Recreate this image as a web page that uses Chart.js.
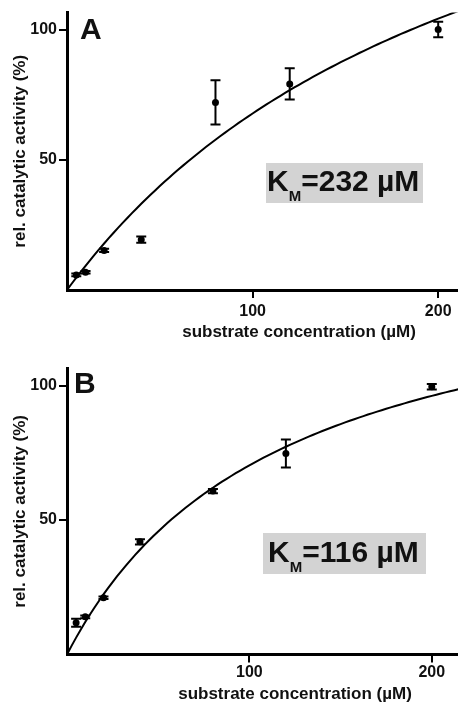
<!DOCTYPE html>
<html>
<head>
<meta charset="utf-8">
<script src="https://cdn.jsdelivr.net/npm/chart.js@4"></script>
<style>
  html, body { margin: 0; padding: 0; background: #fff; width: 458px; height: 702px; overflow: hidden; }
  .panel { position: absolute; left: 0; }
  .letter { position: absolute; font: bold 30px "Liberation Sans", Arial, sans-serif; line-height: 30px; color: #111; }
  .km { position: absolute; background: #d3d3d3; }
  .km span.txt { position: absolute; left: 1px; white-space: nowrap; font: bold 30px "Liberation Sans", Arial, sans-serif; line-height: 30px; color: #111; }
  .km sub { font-size: 15px; vertical-align: -10px; line-height: 0; }
</style>
</head>
<body>
<div class="panel" style="top:0"><canvas id="chartA" width="535" height="340"></canvas></div>
<div class="panel" style="top:340px"><canvas id="chartB" width="527" height="362"></canvas></div>

<div class="letter" style="left:80px; top:14px">A</div>
<div class="letter" style="left:74px; top:368px">B</div>
<div class="km" style="left:266px; top:163px; width:157px; height:40px"><span class="txt" style="top:3px">K<sub>M</sub>=232 µM</span></div>
<div class="km" style="left:263px; top:533px; width:163px; height:41px"><span class="txt" style="top:4px; left:5px">K<sub>M</sub>=116 µM</span></div>

<script>
// substrate concentrations (µM) measured in both panels
const CONC = [5, 10, 20, 40, 80, 120, 200];

// panel A: relative activity (%) and error
const A_ACT = [5.8, 6.8, 15.2, 19.3, 72, 79.1, 100];
const A_ERR = [0.5, 0.5, 0.6, 1.2, 8.5, 6, 3];
const A_KM = 232;
const A_VMAX = 225;

// panel B
const B_ACT = [11.8, 14.0, 21.1, 41.9, 60.8, 74.8, 99.6];
const B_ERR = [1.5, 0.5, 0.5, 1.0, 0.8, 5.2, 1.0];
const B_KM = 116;
const B_VMAX = 152;

const X_TICKS = [100, 200];
const Y_TICKS = [50, 100];
const X_MAX = 250;
const Y_MAX = 106.5;

const FONT = '"Liberation Sans", Arial, sans-serif';
const TEXT = '#111';

// Michaelis-Menten fit line from Km / Vmax
function fitCurve(km, vmax) {
    const pts = [];
    for (let s = 0; s <= X_MAX; s += 2.5) {
        pts.push({ x: s, y: vmax * s / (km + s) });
    }
    return pts;
}

const errorBars = {
    id: 'errorBars',
    afterDatasetsDraw(chart, args, opts) {
        const { ctx, scales: { x, y } } = chart;
        ctx.save();
        ctx.strokeStyle = '#000';
        ctx.lineWidth = 2;
        opts.xs.forEach((c, i) => {
            const px = x.getPixelForValue(c);
            const hi = y.getPixelForValue(opts.ys[i] + opts.err[i]);
            const lo = y.getPixelForValue(opts.ys[i] - opts.err[i]);
            ctx.beginPath();
            ctx.moveTo(px, hi); ctx.lineTo(px, lo);
            ctx.moveTo(px - 5, hi); ctx.lineTo(px + 5, hi);
            ctx.moveTo(px - 5, lo); ctx.lineTo(px + 5, lo);
            ctx.stroke();
        });
        ctx.restore();
    }
};

function makeChart(id, act, err, km, vmax, lay) {
    const ctx = document.getElementById(id).getContext('2d');
    return new Chart(ctx, {
        type: 'scatter',
        data: {
            datasets: [
                {
                    data: fitCurve(km, vmax),
                    showLine: true,
                    borderColor: '#000',
                    borderWidth: 2,
                    pointRadius: 0,
                    tension: 0
                },
                {
                    data: CONC.map((c, i) => ({ x: c, y: act[i] })),
                    backgroundColor: '#000',
                    borderWidth: 0,
                    pointRadius: 3.5
                }
            ]
        },
        options: {
            responsive: false,
            animation: false,
            devicePixelRatio: 1,
            layout: { padding: { top: lay.top, left: 0, right: 0, bottom: 0 } },
            plugins: {
                legend: { display: false },
                tooltip: { enabled: false },
                errorBars: { xs: CONC, ys: act, err: err }
            },
            scales: {
                x: {
                    type: 'linear',
                    min: 0,
                    max: X_MAX,
                    afterBuildTicks: s => { s.ticks = X_TICKS.map(v => ({ value: v })); },
                    afterFit: s => { s.height = lay.xh; },
                    grid: { drawOnChartArea: false, drawTicks: true, tickLength: 8, color: '#000', lineWidth: 2 },
                    border: { color: '#000', width: 3 },
                    ticks: { color: TEXT, padding: lay.xpad, font: { family: FONT, size: 16, weight: 'bold' } },
                    title: {
                        display: true,
                        text: 'substrate concentration (µM)',
                        color: TEXT,
                        padding: { top: 0, bottom: -2.5 },
                        font: { family: FONT, size: 17, weight: 'bold' }
                    }
                },
                y: {
                    type: 'linear',
                    min: 0,
                    max: Y_MAX,
                    afterBuildTicks: s => { s.ticks = Y_TICKS.map(v => ({ value: v })); },
                    afterFit: s => { s.width = 67; },
                    grid: { drawOnChartArea: false, drawTicks: true, tickLength: 8, color: '#000', lineWidth: 2 },
                    border: { color: '#000', width: 3 },
                    ticks: { color: TEXT, padding: 2, font: { family: FONT, size: 16, weight: 'bold' } },
                    title: {
                        display: true,
                        text: 'rel. catalytic activity (%)',
                        color: TEXT,
                        padding: { top: 10, bottom: 0 },
                        font: { family: FONT, size: 17, weight: 'bold' }
                    }
                }
            }
        },
        plugins: [errorBars]
    });
}

makeChart('chartA', A_ACT, A_ERR, A_KM, A_VMAX, { top: 12.6, xh: 50, xpad: 4 });
makeChart('chartB', B_ACT, B_ERR, B_KM, B_VMAX, { top: 28.2, xh: 47.5, xpad: 0 });
</script>
</body>
</html>
